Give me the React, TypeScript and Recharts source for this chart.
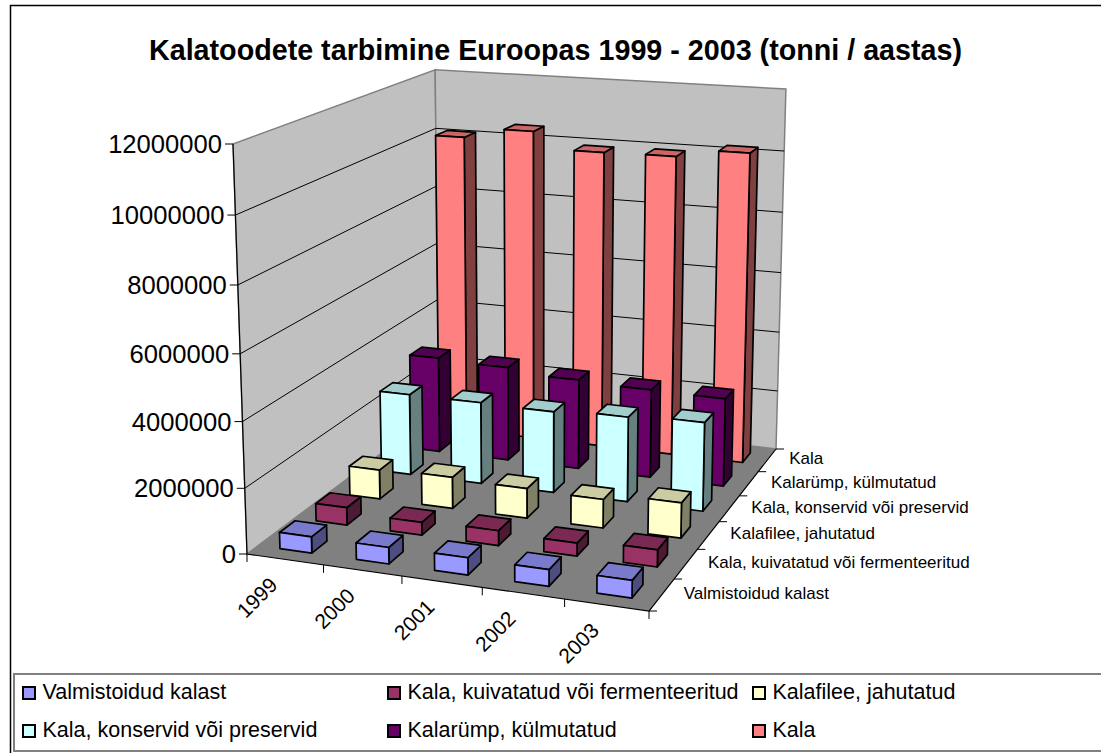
import React from 'react';
import { BarChart, Bar, XAxis, YAxis, Legend, Customized } from 'recharts';

const TITLE = 'Kalatoodete tarbimine Euroopas 1999 - 2003 (tonni / aastas)';
const YEARS = ['1999', '2000', '2001', '2002', '2003'];
const SERIES_NAMES = [
  'Valmistoidud kalast',
  'Kala, kuivatatud või fermenteeritud',
  'Kalafilee, jahutatud',
  'Kala, konservid või preservid',
  'Kalarümp, külmutatud',
  'Kala',
];
const VALMISTOIDUD = [500000, 500000, 520000, 500000, 520000];
const KUIVATATUD = [550000, 400000, 460000, 400000, 520000];
const FILEE = [940000, 1000000, 940000, 900000, 1100000];
const KONSERVID = [2660000, 2660000, 2630000, 2730000, 2830000];
const RUMP = [3200000, 3130000, 2970000, 2900000, 2870000];
const KALA = [10090000, 10440000, 9900000, 9930000, 10200000];
const SERIES_VALUES = [VALMISTOIDUD, KUIVATATUD, FILEE, KONSERVID, RUMP, KALA];
const VALUE_TICKS = [0, 2000000, 4000000, 6000000, 8000000, 10000000, 12000000];
const VALUE_MAX = 12000000;

const FRONT = ['#9999FF', '#993366', '#FFFFCC', '#CCFFFF', '#660066', '#FF8080'];
const TOP = ['#7A7ACC', '#7A2952', '#CCCCA3', '#A3CCCC', '#520052', '#CC6666'];
const SIDE = ['#4D4D80', '#4D1A33', '#808066', '#668080', '#330033', '#804040'];

const rows = YEARS.map((year, i) => {
  const row: Record<string, string | number> = { year };
  SERIES_NAMES.forEach((n, s) => { row[n] = SERIES_VALUES[s][i]; });
  return row;
});

// ---- perspective camera fitted to the picture's box corners
type P = [number, number];
const FL: P = [247, 554], FR: P = [649, 611], BR: P = [776, 449], BL: P = [439, 410];
const TFL: P = [233, 144], TBR: P = [786, 89];

function homography() {
  const [x0, y0] = FL, [x1, y1] = FR, [x2, y2] = BR, [x3, y3] = BL;
  const dx1 = x1 - x2, dx2 = x3 - x2, sx = x0 - x1 + x2 - x3;
  const dy1 = y1 - y2, dy2 = y3 - y2, sy = y0 - y1 + y2 - y3;
  const den = dx1 * dy2 - dx2 * dy1;
  const g = (sx * dy2 - dx2 * sy) / den;
  const h = (dx1 * sy - sx * dy1) / den;
  return { a: x1 - x0 + g * x1, b: x3 - x0 + h * x3, c: x0, d: y1 - y0 + g * y1, e: y3 - y0 + h * y3, f: y0, g, h };
}
const H = homography();
function vanishing(): P {
  const m1 = (TFL[0] - FL[0]) / (TFL[1] - FL[1]);
  const m2 = (TBR[0] - BR[0]) / (TBR[1] - BR[1]);
  const y = (BR[0] - m2 * BR[1] - FL[0] + m1 * FL[1]) / (m1 - m2);
  return [FL[0] + m1 * (y - FL[1]), y];
}
const V = vanishing();
const ALPHA = (FL[1] - TFL[1]) / (TFL[1] - V[1]);
function proj(u: number, v: number, w: number): P {
  const z = H.g * u + H.h * v + 1 + ALPHA * w;
  return [
    (H.a * u + H.b * v + H.c + ALPHA * w * V[0]) / z,
    (H.d * u + H.e * v + H.f + ALPHA * w * V[1]) / z - 3.3 * u * v * w,
  ];
}
const poly = (pts: P[]) => pts.map((p) => `${p[0].toFixed(2)},${p[1].toFixed(2)}`).join(' ');
const FOOT = 0.42;

function makeBarShape(s: number) {
  return function BarShape(props: any) {
    const { index, height, background, value } = props;
    const val = Array.isArray(value) ? value[1] - value[0] : value;
    const w = background && background.height ? height / background.height : val / VALUE_MAX;
    const uc = (index + 0.5) / YEARS.length;
    const vc = (s + 0.5) / SERIES_NAMES.length;
    const du = (FOOT / YEARS.length) / 2, dv = (FOOT / SERIES_NAMES.length) / 2;
    const u0 = uc - du, u1 = uc + du, v0 = vc - dv, v1 = vc + dv;
    const stroke = { stroke: '#000', strokeWidth: 1.7, strokeLinejoin: 'round' as const };
    return (
      <g>
        <polygon points={poly([proj(u1, v0, 0), proj(u1, v1, 0), proj(u1, v1, w), proj(u1, v0, w)])} fill={SIDE[s]} {...stroke} />
        <polygon points={poly([proj(u0, v0, w), proj(u1, v0, w), proj(u1, v1, w), proj(u0, v1, w)])} fill={TOP[s]} {...stroke} />
        <polygon points={poly([proj(u0, v0, 0), proj(u1, v0, 0), proj(u1, v0, w), proj(u0, v0, w)])} fill={FRONT[s]} {...stroke} />
      </g>
    );
  };
}

function Scene() {
  return (
    <g>
      <path d="M10.5 753 V5.5 H1101" fill="none" stroke="#000" strokeWidth={1.5} />
      <text x={555.5} y={60} textAnchor="middle" fontFamily="Liberation Sans" fontWeight="bold" fontSize={28.7} fill="#000">{TITLE}</text>
      <polygon points={poly([proj(0, 0, 0), proj(0, 1, 0), proj(0, 1, 1), proj(0, 0, 1)])} fill="#C0C0C0" stroke="#808080" strokeWidth={1.5} />
      <polygon points={poly([proj(0, 1, 0), proj(1, 1, 0), proj(1, 1, 1), proj(0, 1, 1)])} fill="#C0C0C0" stroke="#808080" strokeWidth={1.5} />
      <polygon points={poly([proj(0, 0, 0), proj(1, 0, 0), proj(1, 1, 0), proj(0, 1, 0)])} fill="#808080" />
      {VALUE_TICKS.slice(1, -1).map((t) => {
        const w = t / VALUE_MAX;
        return <polyline key={t} points={poly([proj(0, 0, w), proj(0, 1, w), proj(1, 1, w)])} fill="none" stroke="#000" strokeWidth={1} />;
      })}
      <polyline points={poly([proj(0, 0, 1), proj(0, 0, 0), proj(1, 0, 0), proj(1, 1, 0)])} fill="none" stroke="#000" strokeWidth={1.2} />
      {YEARS.map((_, i) => {
        const p = proj(i / YEARS.length, 0, 0);
        return <line key={i} x1={p[0]} y1={p[1]} x2={p[0]} y2={p[1] + 8} stroke="#000" strokeWidth={1} />;
      })}
      <line x1={FR[0]} y1={FR[1]} x2={FR[0]} y2={FR[1] + 8} stroke="#000" strokeWidth={1} />
      {SERIES_NAMES.map((_, s) => {
        const p = proj(1, s / SERIES_NAMES.length, 0);
        return <line key={s} x1={p[0]} y1={p[1]} x2={p[0] + 8} y2={p[1]} stroke="#000" strokeWidth={1} />;
      })}
      <line x1={BR[0]} y1={BR[1]} x2={BR[0] + 8} y2={BR[1]} stroke="#000" strokeWidth={1} />
      {SERIES_NAMES.map((n, s) => {
        const p = proj(1, (s + 0.5) / SERIES_NAMES.length, 0);
        return <text key={n} x={p[0] + 22} y={p[1] + 4} fontFamily="Liberation Sans" fontSize={17} fill="#000">{n}</text>;
      })}
    </g>
  );
}

function ValueTick(props: any) {
  const w = props.payload.value / VALUE_MAX;
  const p = proj(0, 0, w);
  return (
    <g>
      <line x1={p[0] - 8} y1={p[1]} x2={p[0]} y2={p[1]} stroke="#000" strokeWidth={1} />
      <text x={p[0] - 11} y={p[1]} textAnchor="end" dominantBaseline="central" fontFamily="Liberation Sans" fontSize={25.6} fill="#000">{props.payload.value}</text>
    </g>
  );
}

function YearTick(props: any) {
  const i = props.index;
  const p = proj((i + 0.5) / YEARS.length, 0, 0);
  const cx = p[0] - 28, cy = p[1] + 38;
  return (
    <text x={cx} y={cy} transform={`rotate(-45 ${cx} ${cy})`} textAnchor="middle" dominantBaseline="central" fontFamily="Liberation Sans" fontSize={21} fill="#000">{props.payload.value}</text>
  );
}

const LEGEND_X = [22, 387, 752];
const LEGEND_Y = [686, 724];

function LegendBox() {
  return (
    <div style={{ position: 'relative', width: 1090, height: 79, border: '2px solid #808080', boxSizing: 'border-box', borderRight: 'none', background: '#fff' }}>
      {SERIES_NAMES.map((n, s) => {
        const col = s % 3, row = Math.floor(s / 3);
        const left = LEGEND_X[col] - 15, top = LEGEND_Y[row] - 675;
        return (
          <div key={n} style={{ position: 'absolute', left, top, height: 14, display: 'flex', alignItems: 'center', whiteSpace: 'nowrap' }}>
            <span style={{ display: 'inline-block', width: 14, height: 14, boxSizing: 'border-box', border: '2px solid #000', background: FRONT[s], marginRight: 6.5 }} />
            <span style={{ fontFamily: 'Liberation Sans', fontSize: 21.5, color: '#000', lineHeight: '14px', position: 'relative', top: -1 }}>{n}</span>
          </div>
        );
      })}
    </div>
  );
}

export default function App() {
  const order = SERIES_NAMES.map((_, s) => s).reverse();
  return (
    <div style={{ position: 'absolute', left: 0, top: 0, width: 1101, height: 753, overflow: 'hidden', background: '#fff' }}>
      <BarChart width={1101} height={753} data={rows} margin={{ top: 0, right: 0, bottom: 0, left: 0 }} barCategoryGap="0%" barGap={0}>
        <Customized component={Scene} />
        <XAxis dataKey="year" height={1} axisLine={false} tickLine={false} interval={0} tick={YearTick} />
        <YAxis width={1} domain={[0, VALUE_MAX]} ticks={VALUE_TICKS} axisLine={false} tickLine={false} interval={0} tick={ValueTick} />
        <Legend wrapperStyle={{ position: 'absolute', left: 13, top: 673, width: 1090, height: 79, bottom: 'auto' }} content={() => <LegendBox />} />
        {order.map((s) => (
          <Bar key={s} dataKey={SERIES_NAMES[s]} fill={FRONT[s]} isAnimationActive={false} shape={makeBarShape(s)} />
        ))}
      </BarChart>
    </div>
  );
}
